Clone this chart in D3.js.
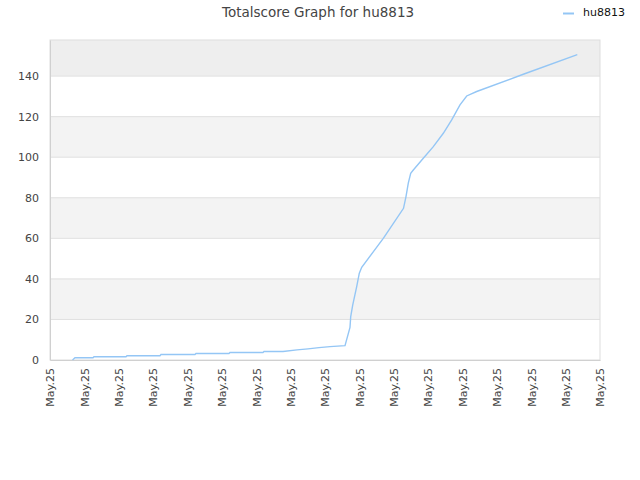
<!DOCTYPE html>
<html>
<head>
<meta charset="utf-8">
<script src="https://cdn.jsdelivr.net/npm/d3@7"></script>
<style>
  body { margin: 0; background: #fff; }
  text { font-family: "DejaVu Sans", sans-serif; }
</style>
</head>
<body>
<div id="container"></div>
<script>
// chart data
var seriesName = "hu8813";
var titleText = "Totalscore Graph for hu8813";

// x in tick units (0 = first date tick), y = total score
var xValues = [0.655, 0.727, 1.251, 1.280, 2.211, 2.240, 3.200, 3.229, 4.218, 4.247,
  5.207, 5.236, 6.196, 6.225, 6.778, 7.185, 7.505, 7.825, 8.145, 8.582,
  8.727, 8.748, 8.806, 8.922, 8.998, 9.068, 9.696, 10.284, 10.356, 10.423,
  10.493, 10.569, 10.860, 11.151, 11.442, 11.686, 11.927, 12.122, 12.413, 13.769, 15.340];
var scoreValues = [0, 1.1, 1.1, 1.6, 1.6, 2.1, 2.1, 2.7, 2.7, 3.2,
  3.2, 3.7, 3.7, 4.2, 4.2, 5.0, 5.5, 6.1, 6.6, 7.1,
  16.1, 21.4, 27.1, 36.2, 42.8, 45.7, 60.0, 74.8, 80.6, 87.2,
  92.1, 93.7, 99.5, 105.2, 111.8, 118.4, 125.8, 130.2, 132.4, 140.9, 150.6];

var xTickLabels = ["May.25", "May.25", "May.25", "May.25", "May.25", "May.25", "May.25", "May.25", "May.25",
  "May.25", "May.25", "May.25", "May.25", "May.25", "May.25", "May.25", "May.25"];
var yTicks = [0, 20, 40, 60, 80, 100, 120, 140];

var width = 640, height = 480;
var margin = {top: 40, right: 40, bottom: 120, left: 50};
var plotW = width - margin.left - margin.right,
    plotH = height - margin.top - margin.bottom;

var lineColor = "#94c6f5";

var svg = d3.select("#container").append("svg")
  .attr("width", width)
  .attr("height", height);

var x = d3.scaleLinear().domain([0, xTickLabels.length - 1]).range([0, plotW]);
var y = d3.scaleLinear().domain([0, 157.8]).range([plotH, 0]);

var g = svg.append("g")
  .attr("transform", "translate(" + margin.left + "," + margin.top + ")");

// alternating bands
var bands = [];
for (var i = 0; i < yTicks.length; i++) {
  var lo = yTicks[i];
  var hi = i + 1 < yTicks.length ? yTicks[i + 1] : y.domain()[1];
  if (i % 2 == 1) bands.push({lo: lo, hi: hi, top: i == yTicks.length - 1});
}
g.selectAll(".band")
  .data(bands).enter()
  .append("rect")
    .attr("class", "band")
    .attr("x", 0)
    .attr("width", plotW)
    .attr("y", function(d) { return y(d.hi); })
    .attr("height", function(d) { return y(d.lo) - y(d.hi); })
    .style("fill", function(d) { return d.top ? "#eeeeee" : "#f3f3f3"; });

// grid lines
g.selectAll(".grid")
  .data(yTicks.slice(1)).enter()
  .append("line")
    .attr("x1", 0).attr("x2", plotW)
    .attr("y1", function(d) { return y(d); })
    .attr("y2", function(d) { return y(d); })
    .style("stroke", "#e0e0e0")
    .style("stroke-width", 1);

// frame
g.append("rect")
  .attr("x", 0).attr("y", 0)
  .attr("width", plotW).attr("height", plotH)
  .style("fill", "none")
  .style("stroke", "#dddddd");

// y axis
var yAxis = d3.axisLeft(y).tickValues(yTicks).tickSize(0).tickPadding(11);
var yg = g.append("g").call(yAxis);
yg.select(".domain").style("stroke", "#d0d0d0");
yg.selectAll("text").style("font-size", "11px").style("fill", "#444");

// x axis
var xAxis = d3.axisBottom(x)
  .tickValues(d3.range(xTickLabels.length))
  .tickFormat(function(d) { return xTickLabels[d]; })
  .tickSize(0);
var xg = g.append("g")
  .attr("transform", "translate(0," + plotH + ")")
  .call(xAxis);
xg.select(".domain").style("stroke", "#d0d0d0");
xg.selectAll("text")
  .style("font-size", "11px")
  .style("fill", "#444")
  .style("text-anchor", "end")
  .attr("transform", "rotate(-90)")
  .attr("x", -8)
  .attr("y", 0)
  .attr("dy", "0.35em");

// the line
var points = xValues.map(function(d, i) { return [d, scoreValues[i]]; });
var line = d3.line()
  .x(function(d) { return x(d[0]); })
  .y(function(d) { return y(d[1]); });

g.append("path")
  .datum(points)
  .attr("d", line)
  .style("fill", "none")
  .style("stroke", lineColor)
  .style("stroke-width", 1.4);

// title
svg.append("text")
  .attr("x", 318)
  .attr("y", 17)
  .style("text-anchor", "middle")
  .style("font-size", "13.5px")
  .style("fill", "#444")
  .text(titleText);

// legend
svg.append("line")
  .attr("x1", 563).attr("x2", 574)
  .attr("y1", 13.5).attr("y2", 13.5)
  .style("stroke", lineColor)
  .style("stroke-width", 2);
svg.append("text")
  .attr("x", 583)
  .attr("y", 16)
  .style("font-size", "11px")
  .style("fill", "#111")
  .text(seriesName);
</script>
</body>
</html>
